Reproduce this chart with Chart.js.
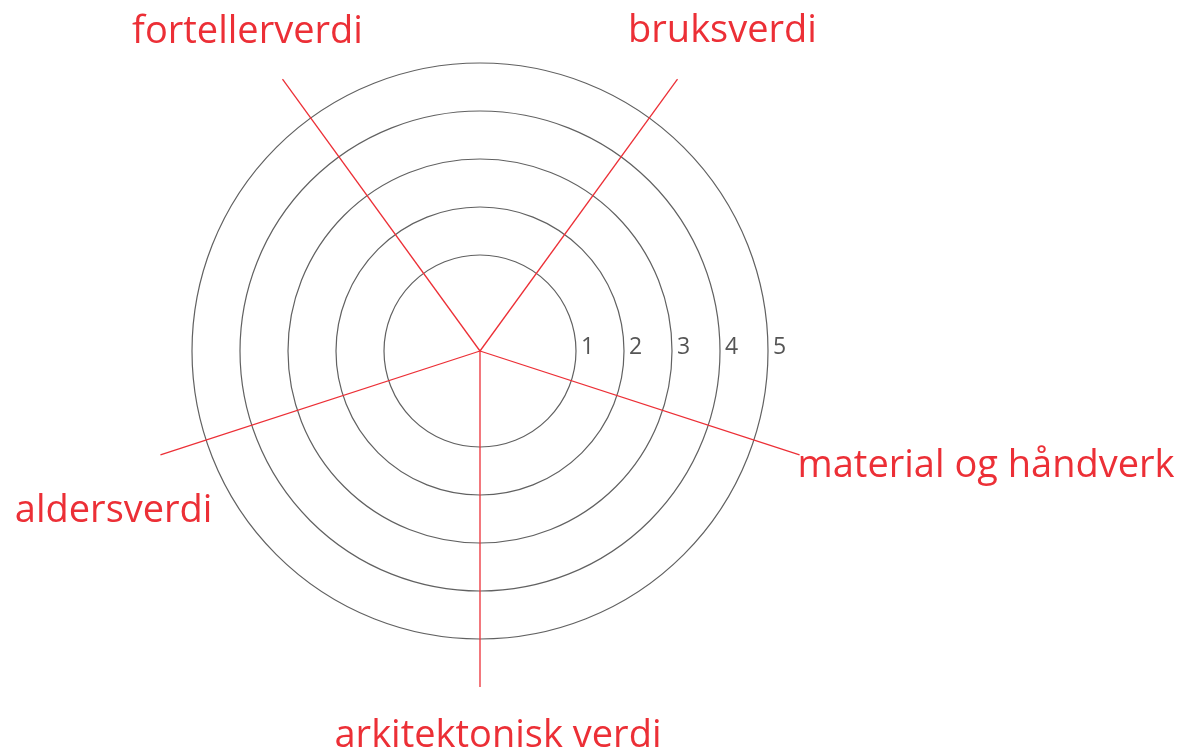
<!DOCTYPE html>
<html>
<head>
<meta charset="utf-8">
<script src="https://cdn.jsdelivr.net/npm/chart.js@4.4.1/dist/chart.umd.min.js"></script>
<style>
    html, body { margin: 0; padding: 0; background: #fff; }
    #wrap { width: 1193px; height: 751px; position: relative; }
</style>
</head>
<body>
<div id="wrap"><canvas id="myChart"></canvas></div>
<script>
// categories, clockwise starting from the top-right spoke
let categories = ['bruksverdi', 'material og håndverk', 'arkitektonisk verdi', 'aldersverdi', 'fortellerverdi'];
// the form is blank, no scores filled in
let scores = [null, null, null, null, null];
let tickLabels = [1, 2, 3, 4, 5];

const red = '#ec2f36';
const grey = '#616161';

// where each category label sits relative to the end of its spoke
const labelAnchors = [
    { align: 'center', dx: 45, dy: -37 },
    { align: 'left', dx: -2, dy: 22 },
    { align: 'center', dx: 18, dy: 60 },
    { align: 'right', dx: 52, dy: 67 },
    { align: 'center', dx: -35, dy: -36 }
];

const labelPlugin = {
    id: 'labelPlugin',
    afterDraw(chart) {
        const scale = chart.scales.r;
        const ctx = chart.ctx;
        ctx.save();

        // ring numbers, to the right of each ring on the horizontal
        ctx.font = '23px "Open Sans"';
        ctx.fillStyle = '#555555';
        ctx.textAlign = 'left';
        ctx.textBaseline = 'alphabetic';
        for (let i = 0; i < tickLabels.length; i++) {
            let d = scale.getDistanceFromCenterForValue(tickLabels[i]);
            ctx.fillText(String(tickLabels[i]), scale.xCenter + d + 5, scale.yCenter + 3);
        }

        // category names
        ctx.font = '38px "Open Sans"';
        ctx.fillStyle = red;
        for (let i = 0; i < categories.length; i++) {
            let p = scale.getPointPosition(i, scale.drawingArea);
            ctx.textAlign = labelAnchors[i].align;
            ctx.fillText(categories[i], p.x + labelAnchors[i].dx, p.y + labelAnchors[i].dy);
        }
        ctx.restore();
    }
};

const ctx = document.getElementById('myChart').getContext('2d');
const radarChart = new Chart(ctx, {
    type: 'radar',
    data: {
        labels: categories,
        datasets: [{
            label: 'verdi',
            data: scores,
            borderColor: red,
            backgroundColor: 'rgba(0,0,0,0)',
            pointRadius: 0
        }]
    },
    options: {
        responsive: true,
        maintainAspectRatio: false,
        animation: false,
        layout: {
            padding: { left: 144, right: 377, top: 15, bottom: 64 }
        },
        plugins: {
            legend: { display: false },
            tooltip: { enabled: false }
        },
        scales: {
            r: {
                min: -1,
                max: 6,
                startAngle: 36,
                ticks: { display: false, stepSize: 1 },
                afterBuildTicks: function (scale) {
                    scale.ticks = scale.ticks.filter(t => t.value >= 1 && t.value <= 5);
                },
                grid: {
                    circular: true,
                    color: grey,
                    lineWidth: 1.2
                },
                angleLines: {
                    color: red,
                    lineWidth: 1.3
                },
                pointLabels: { display: false }
            }
        }
    },
    plugins: [labelPlugin]
});
</script>
</body>
</html>
